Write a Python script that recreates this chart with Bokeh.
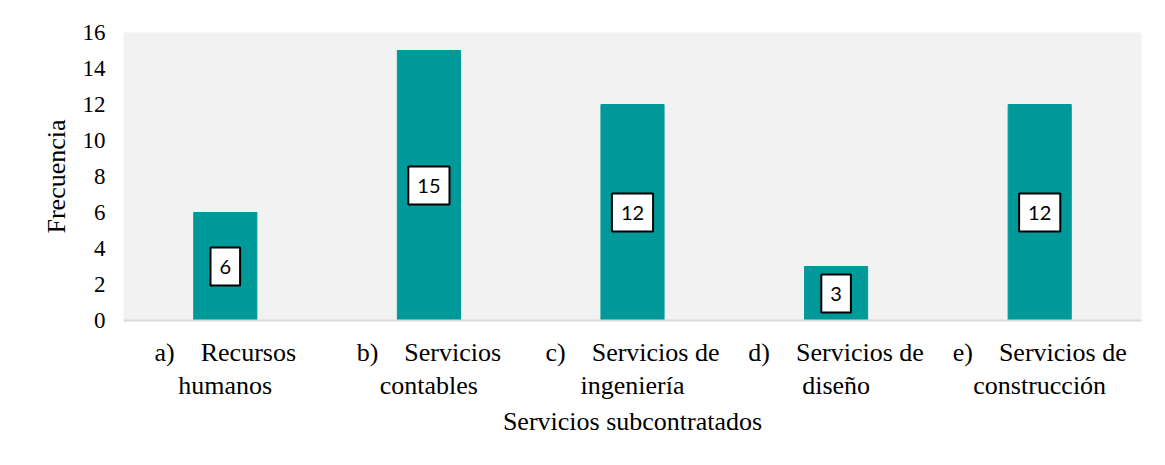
from bokeh.plotting import figure
from bokeh.models import ColumnDataSource, FixedTicker
from bokeh.core.properties import value
from bokeh.embed import file_html
from bokeh.resources import INLINE

NB = "\u00a0"

categories = [
    "a)" + NB * 4 + "Recursos\nhumanos",
    "b)" + NB * 4 + "Servicios\ncontables",
    "c)" + NB * 4 + "Servicios de\ningeniería",
    "d)" + NB * 4 + "Servicios de\ndiseño",
    "e)" + NB * 4 + "Servicios de\nconstrucción",
]
frecuencia = [6, 15, 12, 3, 12]
y_ticks = [0, 2, 4, 6, 8, 10, 12, 14, 16]
x_title = "Servicios subcontratados"
y_title = "Frecuencia"

source = ColumnDataSource(dict(
    cat=categories,
    val=frecuencia,
    mid=[v / 2 for v in frecuencia],
    txt=[str(v) for v in frecuencia],
))

W, H = 1157, 457
FL, FT, FR, FB = 123, 32, 16, 137   # frame borders

p = figure(
    x_range=categories, y_range=(0, 16),
    width=W, height=H,
    output_backend="svg", toolbar_location=None,
    min_border_left=FL, min_border_right=FR,
    min_border_top=FT, min_border_bottom=FB,
)

p.background_fill_color = "#F2F2F2"
p.border_fill_color = "white"
p.outline_line_color = None
p.xgrid.grid_line_color = None
p.ygrid.grid_line_color = None

p.vbar(x="cat", top="val", width=0.31, source=source,
       fill_color="#009999", line_color="#009999")

p.text(x="cat", y="mid", text="txt", source=source,
       text_align="center", text_baseline="middle",
       text_font=value("Lato"), text_font_size="20px", text_color="black",
       background_fill_color="white", border_line_color="black",
       border_line_width=2, padding=(9, 12))

serif = "Liberation Serif"
p.yaxis.ticker = FixedTicker(ticks=y_ticks)
p.yaxis.axis_line_color = None
p.yaxis.major_tick_line_color = None
p.yaxis.minor_tick_line_color = None
p.yaxis.major_label_text_font = serif
p.yaxis.major_label_text_font_size = "23px"
p.yaxis.major_label_text_color = "black"
p.yaxis.major_label_standoff = 12
p.yaxis.axis_label = y_title
p.yaxis.axis_label_text_font = serif
p.yaxis.axis_label_text_font_size = "26px"
p.yaxis.axis_label_text_font_style = "normal"
p.yaxis.axis_label_text_color = "black"
p.yaxis.axis_label_standoff = 9

p.xaxis.axis_line_color = "#D9D9D9"
p.xaxis.axis_line_width = 2
p.xaxis.major_tick_line_color = None
p.xaxis.minor_tick_line_color = None
p.xaxis.major_label_text_font = serif
p.xaxis.major_label_text_font_size = "26px"
p.xaxis.major_label_text_color = "black"
p.xaxis.major_label_text_line_height = 1.15
p.xaxis.major_label_standoff = 11
p.xaxis.axis_label = x_title
p.xaxis.axis_label_text_font = serif
p.xaxis.axis_label_text_font_size = "26px"
p.xaxis.axis_label_text_font_style = "normal"
p.xaxis.axis_label_text_color = "black"
p.xaxis.axis_label_standoff = 4

open("out.html", "w").write(file_html(p, INLINE))
